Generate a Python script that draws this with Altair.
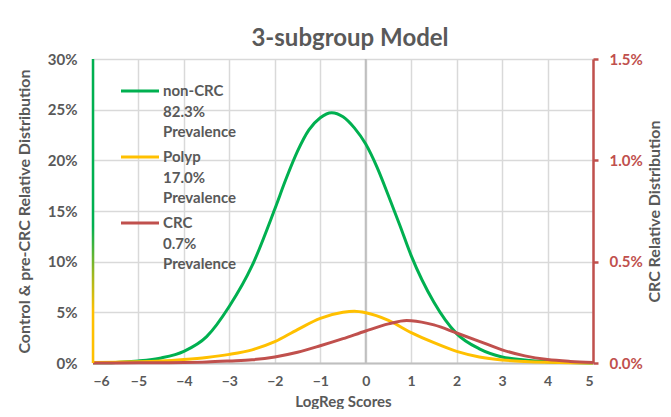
import altair as alt
import pandas as pd

FONT = "Lato"
GRAY = "#595959"

# ---- data (values in %) ----
green_x = [-6, -5.5, -5, -4.5, -4, -3.5, -3, -2.5, -2, -1.75, -1.5, -1.25, -1, -0.75, -0.5, -0.25, 0, 0.25, 0.5, 0.75, 1, 1.5, 2, 2.5, 3, 3.5, 4, 4.5, 5]
green_y = [0.02, 0.06, 0.2, 0.5, 1.15, 2.6, 5.6, 9.6, 15.2, 18.2, 20.9, 23.0, 24.2, 24.7, 24.3, 23.2, 21.6, 19.3, 16.5, 13.6, 10.6, 6.0, 2.9, 1.4, 0.6, 0.3, 0.13, 0.05, 0.01]

yellow_x = [-6, -5.5, -5, -4.5, -4, -3.5, -3, -2.5, -2, -1.5, -1, -0.5, -0.25, 0, 0.5, 1, 1.5, 2, 2.5, 3, 3.5, 4, 4.5, 5]
yellow_y = [0.05, 0.08, 0.12, 0.2, 0.35, 0.55, 0.85, 1.3, 2.1, 3.3, 4.4, 5.0, 5.1, 4.95, 4.2, 3.0, 2.0, 1.15, 0.6, 0.3, 0.15, 0.07, 0.03, 0.01]

red_x = [-6, -5.5, -5, -4.5, -4, -3.5, -3, -2.5, -2, -1.5, -1, -0.5, 0, 0.5, 0.9, 1, 1.5, 2, 2.5, 3, 3.5, 4, 4.5, 5]
red_y = [0.0003, 0.0005, 0.0008, 0.0012, 0.0025, 0.005, 0.01, 0.016, 0.03, 0.053, 0.085, 0.12, 0.158, 0.193, 0.21, 0.209, 0.188, 0.148, 0.107, 0.065, 0.035, 0.017, 0.008, 0.003]

series_names = ["non-CRC", "Polyp", "CRC"]
series_colors = ["#00B050", "#FFC000", "#C0504D"]
prevalence = ["82.3%", "17.0%", "0.7%"]

x_ticks = list(range(-6, 6))
left_ticks = [0, 0.05, 0.10, 0.15, 0.20, 0.25, 0.30]
right_ticks = [0, 0.005, 0.010, 0.015]

# ---- tables ----
df_left = pd.concat([
    pd.DataFrame({"x": green_x, "v": [p / 100 for p in green_y], "series": "non-CRC"}),
    pd.DataFrame({"x": yellow_x, "v": [p / 100 for p in yellow_y], "series": "Polyp"}),
])
df_right = pd.DataFrame({"x": red_x, "v": [p / 100 for p in red_y], "series": "CRC"})
df_zero = pd.DataFrame({"x": [0]})

leg_rows = []
for i, (n, p) in enumerate(zip(series_names, prevalence)):
    for j, t in enumerate([n, p, "Prevalence"]):
        leg_rows.append({"series": n, "text": t, "ly": 32 + 66 * i + 20.5 * j, "first": j == 0})
df_leg = pd.DataFrame(leg_rows)
df_legline = df_leg[df_leg["first"]]

color = alt.Color("series:N", scale=alt.Scale(domain=series_names, range=series_colors), legend=None)

LBL = dict(labelFont=FONT, labelFontSize=15, labelFontWeight="bold")
TTL = dict(titleFont=FONT, titleFontSize=16, titleFontWeight="bold", titleColor=GRAY)

xscale = alt.Scale(domain=[-6, 5], nice=False, zero=False)
xaxis = alt.Axis(values=x_ticks, title="LogReg Scores", grid=True, gridColor="#D9D9D9", gridWidth=1.5,
                 domainColor="#BFBFBF", domainWidth=2, ticks=False, labelPadding=11,
                 labelColor=GRAY, labelFont=FONT, labelFontSize=14, labelFontWeight="bold",
                 titleFont=FONT, titleFontSize=15, titleFontWeight="bold", titleColor=GRAY,
                 titleY=43, titleBaseline="alphabetic")
x_enc = alt.X("x:Q", scale=xscale, axis=xaxis)

zero_rule = alt.Chart(df_zero).mark_rule(color="#BFBFBF", strokeWidth=2).encode(x=x_enc)

left = alt.Chart(df_left).mark_line(interpolate="monotone", strokeWidth=3).encode(
    x=x_enc,
    y=alt.Y("v:Q", scale=alt.Scale(domain=[0, 0.30], nice=False),
            axis=alt.Axis(values=left_ticks, format=".0%", title="Control & pre-CRC Relative Distribution",
                          grid=True, gridColor="#D9D9D9", gridWidth=1.5, domain=False, ticks=False, tickSize=0,
                          labelPadding=16, labelColor=GRAY, titlePadding=15, **LBL, **TTL)),
    color=color,
)

right = alt.Chart(df_right).mark_line(interpolate="monotone", strokeWidth=3).encode(
    x=x_enc,
    y=alt.Y("v:Q", scale=alt.Scale(domain=[0, 0.015], nice=False),
            axis=alt.Axis(orient="right", values=right_ticks, format=".1%", title="CRC Relative Distribution",
                          grid=False, domainColor="#C0504D", domainWidth=2.5, tickColor="#C0504D",
                          tickWidth=2.5, tickSize=5, labelPadding=11, labelColor="#C0504D",
                          titleAngle=270, titleBaseline="top", titlePadding=4, **LBL, **TTL)),
    color=color,
)

grad = alt.LinearGradient(
    gradient="linear", x1=0, x2=0, y1=0, y2=1,
    stops=[alt.GradientStop(color="#00B050", offset=0),
           alt.GradientStop(color="#00B050", offset=0.55),
           alt.GradientStop(color="#A8B81C", offset=0.72),
           alt.GradientStop(color="#FFC000", offset=0.83),
           alt.GradientStop(color="#FFC000", offset=1)])
left_line = alt.Chart(alt.Data(values=[{}])).mark_rect(color=grad).encode(
    x=alt.value(-1.25), x2=alt.value(1.25), y=alt.value(0), y2=alt.value(304))

leg_lines = alt.Chart(df_legline).mark_rule(strokeWidth=3).encode(
    x=alt.value(28), x2=alt.value(66),
    y=alt.Y("ly:Q", scale=None, axis=None),
    color=color,
)
leg_text = alt.Chart(df_leg).mark_text(align="left", baseline="middle", font=FONT, fontSize=15,
                                       fontWeight="bold", color=GRAY).encode(
    x=alt.value(70),
    y=alt.Y("ly:Q", scale=None, axis=None),
    text="text:N",
)

chart = alt.layer(zero_rule, left, right, left_line, leg_lines, leg_text).resolve_scale(
    y="independent"
).properties(
    width=500, height=304,
    autosize="none",
    padding={"left": 85, "top": 51, "right": 70, "bottom": 46},
    title=alt.TitleParams("3-subgroup Model", font=FONT, fontSize=24, fontWeight="bold",
                          color=GRAY, anchor="middle", offset=1, dx=7),
).configure_view(stroke=None).configure(font=FONT)

chart.save("out.html", embed_options={"renderer": "svg", "actions": False})
